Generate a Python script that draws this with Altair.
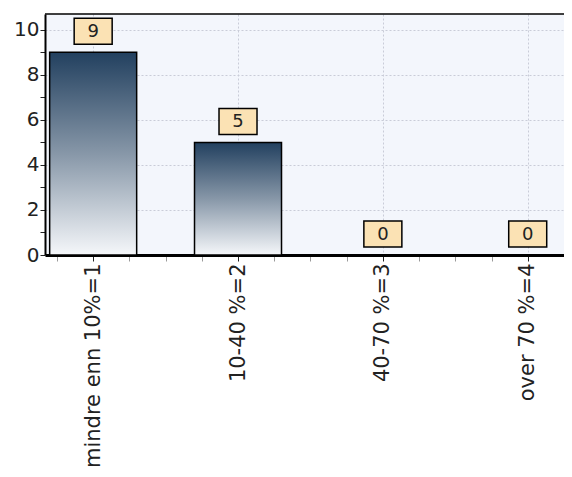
import altair as alt
import pandas as pd

categories = ["mindre enn 10%=1", "10-40 %=2", "40-70 %=3", "over 70 %=4"]
codes = [1, 2, 3, 4]
counts = [9, 5, 0, 0]

df = pd.DataFrame({"code": codes, "label": categories, "count": counts})

label_expr = " : ".join(
    f"datum.value == {c} ? '{t}'" for c, t in zip(codes, categories)
) + " : ''"

x_scale = alt.Scale(domain=[0.702, 4.216], nice=False, zero=False)
y_scale = alt.Scale(domain=[0, 10.7], nice=False)

x_axis = alt.Axis(
    values=[v / 4 for v in range(3, 17)],
    labelExpr=label_expr,
    labelAngle=-90,
    labelFont="DejaVu Sans",
    labelFontSize=21,
    labelColor="#222222",
    labelPadding=2,
    labelOverlap=False,
    labelFlush=False,
    labelBound=False,
    labelLimit=400,
    domainColor="black",
    domainWidth=3,
    tickColor={"condition": {"test": "datum.value % 1 == 0", "value": "#222222"}, "value": "#9a9a9a"},
    tickSize=6,
    tickWidth=1,
    grid=True,
    gridColor="#c9ccd8",
    gridDash=[2, 2],
    gridOpacity={"condition": {"test": "datum.value % 1 == 0", "value": 1}, "value": 0},
    title=None,
)

y_axis = alt.Axis(
    values=list(range(0, 11)),
    labelExpr="datum.value % 2 == 0 ? datum.label : ''",
    labelFont="DejaVu Sans",
    labelFontSize=20,
    labelColor="#222222",
    labelPadding=1,
    labelOverlap=False,
    labelFlush=False,
    domainColor="black",
    domainWidth=2,
    tickColor="#222222",
    tickSize=5,
    grid=True,
    gridColor="#c9ccd8",
    gridDash=[2, 2],
    gridOpacity={"condition": {"test": "datum.value % 2 == 0 && datum.value > 0", "value": 1}, "value": 0},
    title=None,
)

gradient = alt.Gradient(
    gradient="linear",
    stops=[
        alt.GradientStop(color="#22405f", offset=0),
        alt.GradientStop(color="#8797a8", offset=0.5),
        alt.GradientStop(color="#f5f7fa", offset=1),
    ],
    x1=0, x2=0, y1=0, y2=1,
)

base = alt.Chart(df).encode(
    x=alt.X("code:Q", scale=x_scale, axis=x_axis),
    y=alt.Y("count:Q", scale=y_scale, axis=y_axis),
)

bars = base.mark_bar(width=87, fill=gradient, stroke="black", strokeWidth=1.5)

boxes = base.mark_point(
    shape="M-1,-0.684L1,-0.684L1,0.684L-1,0.684Z",
    size=1444,
    filled=True,
    fill="#fbe2b4",
    stroke="black",
    strokeWidth=1.5,
    opacity=1,
    yOffset=-21,
)

texts = base.mark_text(
    font="DejaVu Sans",
    fontSize=18,
    color="#222222",
    baseline="middle",
    align="center",
    yOffset=-20,
).encode(text=alt.Text("count:Q"))

top_line = alt.Chart(pd.DataFrame({"a": [0]})).mark_rule(color="black", strokeWidth=1.5).encode(
    x=alt.value(0), x2=alt.value(519), y=alt.value(0)
)

chart = (
    alt.layer(bars, boxes, texts, top_line)
    .properties(
        width=519,
        height=241,
        autosize=alt.AutoSizeParams(type="none"),
        padding={"left": 37, "top": 6, "right": 0, "bottom": 213},
        background="white",
    )
    .configure_view(fill="#f3f6fc", stroke=None)
)

chart.save("out.html", embed_options={"renderer": "svg", "actions": False})
